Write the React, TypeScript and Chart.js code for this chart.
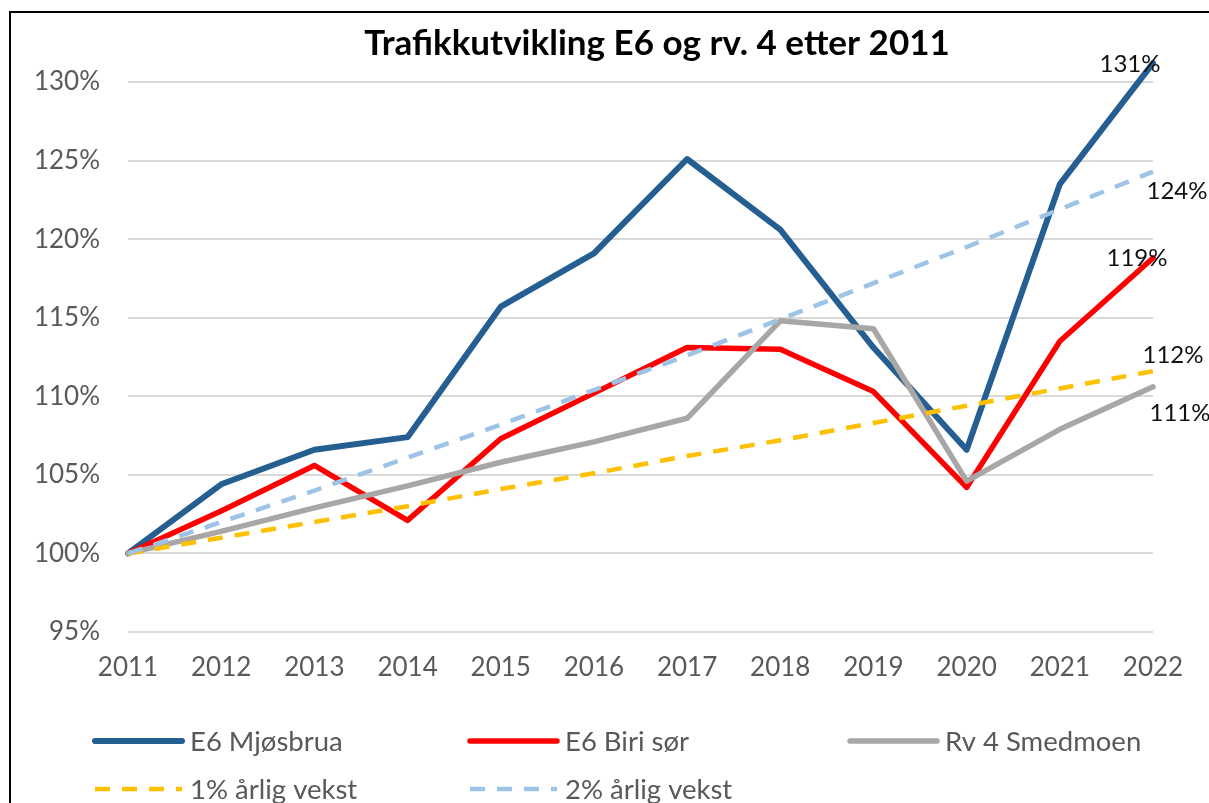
import React, { useEffect, useRef } from "react";
import { Chart, registerables } from "chart.js";

Chart.register(...registerables);

const years = ["2011", "2012", "2013", "2014", "2015", "2016", "2017", "2018", "2019", "2020", "2021", "2022"];
const mjosbrua = [100, 104.4, 106.6, 107.4, 115.7, 119.1, 125.1, 120.6, 113.1, 106.6, 123.5, 131.2];
const biriSor = [100, 102.7, 105.6, 102.1, 107.3, 110.2, 113.1, 113.0, 110.3, 104.2, 113.5, 118.8];
const smedmoen = [100, 101.4, 102.9, 104.3, 105.8, 107.1, 108.6, 114.8, 114.3, 104.6, 107.9, 110.6];
const vekst1 = [100, 101, 102, 103, 104.1, 105.1, 106.2, 107.2, 108.3, 109.4, 110.5, 111.6];
const vekst2 = [100, 102, 104, 106.1, 108.2, 110.4, 112.6, 114.9, 117.2, 119.5, 121.9, 124.3];
const seriesNames = ["E6 Mjøsbrua", "E6 Biri sør", "Rv 4 Smedmoen", "1% årlig vekst", "2% årlig vekst"];
const yMin = 95;
const yMax = 130;
const yStep = 5;
const title = "Trafikkutvikling E6 og rv. 4 etter 2011";

const FONT = "Lato, 'Open Sans', sans-serif";
const TEXT_GREY = "#595959";

// label offsets (px) relative to each series' last point
const endLabelOffsets = [
  { dx: -23, dy: 1 },
  { dx: -16, dy: 0 },
  { dx: 27, dy: 26 },
  { dx: 20, dy: -16 },
  { dx: 24, dy: 20 },
];

const frame = {
  id: "frame",
  beforeDraw(chart: any) {
    const ctx = chart.ctx;
    ctx.save();
    ctx.fillStyle = "#ffffff";
    ctx.fillRect(0, 0, chart.width, chart.height);
    ctx.fillStyle = "#000000";
    ctx.fillRect(9, 11, 2, chart.height - 11);
    ctx.fillRect(9, 11, chart.width - 9, 2);
    ctx.fillStyle = "#000000";
    ctx.font = `bold 35px ${FONT}`;
    ctx.textAlign = "center";
    ctx.textBaseline = "middle";
    ctx.fillText(title, 657, 44);
    ctx.restore();
  },
  afterDraw(chart: any) {
    const ctx = chart.ctx;
    ctx.save();
    // end labels
    ctx.font = `24px ${FONT}`;
    ctx.fillStyle = "#111111";
    ctx.textAlign = "center";
    ctx.textBaseline = "middle";
    chart.data.datasets.forEach((ds: any, i: number) => {
      const meta = chart.getDatasetMeta(i);
      const last = meta.data[meta.data.length - 1];
      const v = ds.data[ds.data.length - 1];
      const off = endLabelOffsets[i];
      ctx.fillText(Math.round(v) + "%", last.x + off.dx, last.y + off.dy);
    });
    // legend
    const cols = [95, 470, 850];
    const rows = [741, 789];
    ctx.font = `27.5px ${FONT}`;
    ctx.textAlign = "left";
    chart.data.datasets.forEach((ds: any, i: number) => {
      const x = cols[i % 3];
      const y = rows[Math.floor(i / 3)];
      ctx.beginPath();
      ctx.strokeStyle = ds.borderColor;
      ctx.lineWidth = ds.borderWidth;
      ctx.lineCap = ds.borderDash.length ? "butt" : "round";
      ctx.setLineDash(ds.borderDash);
      ctx.moveTo(x, y);
      ctx.lineTo(x + 87, y);
      ctx.stroke();
      ctx.setLineDash([]);
      ctx.fillStyle = TEXT_GREY;
      ctx.fillText(ds.label, x + 95, y + 1);
    });
    ctx.restore();
  },
};

export default function App() {
  const ref = useRef<HTMLCanvasElement | null>(null);
  useEffect(() => {
    if (!ref.current) return;
    const mk = (label: string, data: number[], color: string, width: number, dash: number[], order: number) => ({
      label,
      data,
      borderColor: color,
      backgroundColor: color,
      borderWidth: width,
      borderDash: dash,
      borderCapStyle: dash.length ? "butt" : "round",
      borderJoinStyle: "round",
      pointRadius: 0,
      pointHoverRadius: 0,
      tension: 0,
      fill: false,
      clip: false,
      order,
    });
    const chart = new Chart(ref.current, {
      type: "line",
      data: {
        labels: years,
        datasets: [
          mk(seriesNames[0], mjosbrua, "#255E91", 6, [], 5),
          mk(seriesNames[1], biriSor, "#FF0000", 5.5, [], 4),
          mk(seriesNames[2], smedmoen, "#A9A6A6", 5.5, [], 3),
          mk(seriesNames[3], vekst1, "#FFC000", 4.5, [15, 12], 2),
          mk(seriesNames[4], vekst2, "#9DC3E6", 4.5, [15, 12], 1),
        ] as any,
      },
      options: {
        animation: false,
        responsive: true,
        maintainAspectRatio: false,
        events: [],
        layout: { padding: { left: 0, right: 56, top: 82, bottom: 111 } },
        plugins: {
          legend: { display: false },
          title: { display: false },
          tooltip: { enabled: false },
        },
        scales: {
          x: {
            offset: false,
            grid: { display: false, drawTicks: false },
            border: { display: false },
            ticks: {
              color: TEXT_GREY,
              font: { family: FONT, size: 26 },
              padding: 20,
              maxRotation: 0,
              autoSkip: false,
            },
            afterFit: (s: any) => {
              s.height = 60;
            },
          },
          y: {
            min: yMin,
            max: yMax,
            grid: { color: "#D9D9D9", lineWidth: 2, drawTicks: false },
            border: { display: false },
            ticks: {
              stepSize: yStep,
              color: TEXT_GREY,
              font: { family: FONT, size: 26 },
              padding: 28,
              callback: (v: any) => v + "%",
            },
            afterFit: (s: any) => {
              s.width = 128;
            },
          },
        },
      } as any,
      plugins: [frame],
    });
    return () => chart.destroy();
  }, []);
  return (
    <div style={{ position: "fixed", left: 0, top: 0, width: 1209, height: 803, background: "#fff" }}>
      <canvas ref={ref} />
    </div>
  );
}
